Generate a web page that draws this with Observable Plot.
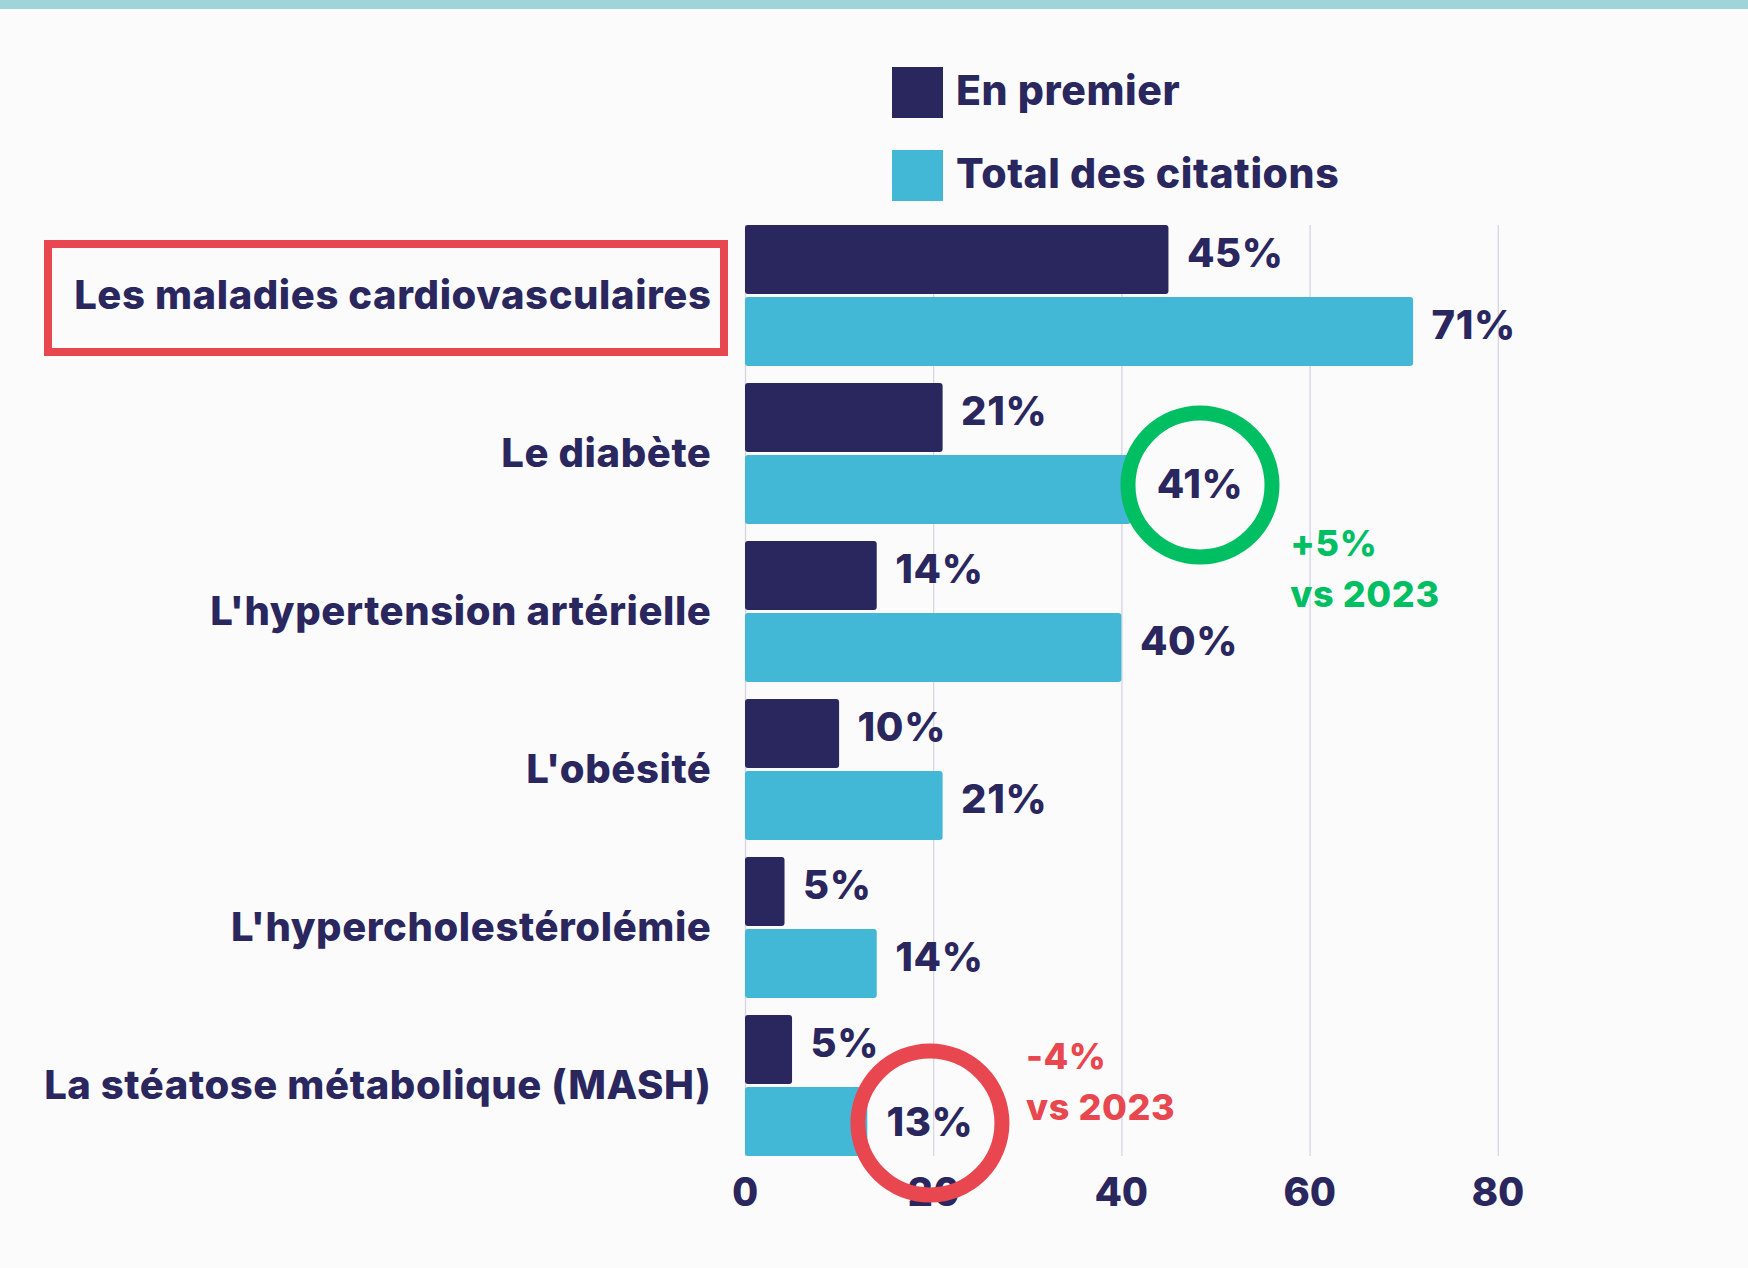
<!DOCTYPE html>
<html>
<head>
<meta charset="utf-8">
<script src="https://cdn.jsdelivr.net/npm/d3@7"></script>
<script src="https://cdn.jsdelivr.net/npm/@observablehq/plot@0.6"></script>
<style>
  html, body { margin: 0; padding: 0; }
  body { width: 1748px; height: 1268px; overflow: hidden; position: relative; background: #FBFBFC; font-family: Inter, "Noto Sans", sans-serif; }
  #topband { position: absolute; left: 0; top: 0; width: 1748px; height: 9px; background: #A0D5D8; }
  #chart { position: absolute; left: 0; top: 0; }
  #legend { position: absolute; left: 0; top: 0; }
  #hlbox { position: absolute; left: 44px; top: 240px; width: 684px; height: 116px; border: 8px solid #E8474F; box-sizing: border-box; }
</style>
</head>
<body>
<div id="chart"></div>
<div id="topband"></div>
<svg id="legend" width="1748" height="220"></svg>
<div id="hlbox"></div>
<script>
// ---------- data ----------
const categories = [
  "Les maladies cardiovasculaires",
  "Le diabète",
  "L'hypertension artérielle",
  "L'obésité",
  "L'hypercholestérolémie",
  "La stéatose métabolique (MASH)"
];
const seriesNames = ["En premier", "Total des citations"];
const premierValues = [45, 21, 14, 10, 4.2, 5];
const premierLabels = ["45%", "21%", "14%", "10%", "5%", "5%"];
const totalValues = [71, 41, 40, 21, 14, 13];
const totalLabels = ["71%", "41%", "40%", "21%", "14%", "13%"];
const xTicks = [0, 20, 40, 60, 80];

// circled highlights (category, circle centre in x units, change vs 2023)
const highlightCategories = ["Le diabète", "La stéatose métabolique (MASH)"];
const highlightCentres = [48.3, 19.6];
const highlightDeltas = ["+5%\nvs 2023", "-4%\nvs 2023"];
const highlightDeltaX = [57.9, 29.8];

// ---------- style ----------
const FONT = "Inter, 'Noto Sans', sans-serif";
const NAVY = "#2A265E";
const CYAN = "#43B8D6";
const GREEN = "#00BF63";
const RED = "#E8474F";
const GRID = "#D2D2E2";
const highlightColors = [GREEN, RED];
const highlightDy = [-5, 1];
const deltaDy = [75, -44];

// ---------- table ----------
const rows = [];
categories.forEach((c, i) => {
  rows.push({category: c, series: seriesNames[0], value: premierValues[i], label: premierLabels[i]});
  rows.push({category: c, series: seriesNames[1], value: totalValues[i], label: totalLabels[i]});
});
const isCircled = d => d.series === seriesNames[1] && highlightCategories.includes(d.category);

const gridRows = [];
categories.slice(0, -1).forEach(c => xTicks.forEach(t => gridRows.push({category: c, tick: t})));
const gridLast = xTicks.map(t => ({category: categories[categories.length - 1], tick: t}));

const marginTop = 224, marginBottom = 111;
const plotH = 1268 - marginTop - marginBottom;
const padInner = 0.107;
const step = plotH / (categories.length - padInner);
const gap = step * padInner;

const marks = [
  Plot.ruleX(gridRows, {x: "tick", fy: "category", stroke: GRID, strokeWidth: 1.2, insetBottom: -gap}),
  Plot.ruleX(gridLast, {x: "tick", fy: "category", stroke: GRID, strokeWidth: 1.2}),
  Plot.barX(rows, {x: "value", y: "series", fy: "category", fill: "series", rx: 3}),
  Plot.text(rows.filter(d => !isCircled(d)), {
    x: "value", y: "series", fy: "category", text: "label",
    textAnchor: "start", dx: 18, dy: -6, fill: NAVY
  })
];
highlightCategories.forEach((c, i) => {
  const d = [{category: c, series: seriesNames[1], cx: highlightCentres[i], label: totalLabels[categories.indexOf(c)], delta: highlightDeltas[i], dx: highlightDeltaX[i]}];
  marks.push(Plot.dot(d, {x: "cx", y: "series", fy: "category", r: 72, stroke: highlightColors[i], strokeWidth: 15, fill: "none", dy: highlightDy[i]}));
  marks.push(Plot.text(d, {x: "cx", y: "series", fy: "category", text: "label", fill: NAVY, dy: highlightDy[i]}));
  marks.push(Plot.text(d, {x: "dx", y: "series", fy: "category", text: "delta", fill: highlightColors[i], textAnchor: "start", fontSize: 36, lineHeight: 1.43, dy: deltaDy[i]}));
});

const chart = Plot.plot({
  width: 1748,
  height: 1268,
  marginTop,
  marginBottom,
  marginLeft: 745,
  marginRight: 62,
  style: {fontFamily: FONT, fontSize: "40px", fontWeight: 800, letterSpacing: "0.6px", color: NAVY, background: "transparent", overflow: "visible"},
  x: {domain: [0, 100], ticks: xTicks, tickSize: 0, tickPadding: 21, label: null},
  y: {domain: seriesNames, paddingInner: 0.042, paddingOuter: 0, axis: null},
  fy: {domain: categories, paddingInner: padInner, paddingOuter: 0, tickSize: 0, tickPadding: 34, label: null, axis: "left"},
  color: {domain: seriesNames, range: [NAVY, CYAN]},
  marks
});
document.getElementById("chart").appendChild(chart);

// ---------- legend ----------
const lg = d3.select("#legend");
const legendItems = [{name: seriesNames[0], color: NAVY, top: 67, base: 105}, {name: seriesNames[1], color: CYAN, top: 150, base: 188}];
legendItems.forEach(it => {
  lg.append("rect").attr("x", 892).attr("y", it.top).attr("width", 51).attr("height", 51).attr("fill", it.color);
  lg.append("text").attr("x", 956).attr("y", it.base).attr("fill", NAVY)
    .attr("font-family", FONT).attr("font-weight", 800).attr("font-size", 41)
    .attr("letter-spacing", "0.6px")
    .text(it.name);
});
</script>
</body>
</html>
